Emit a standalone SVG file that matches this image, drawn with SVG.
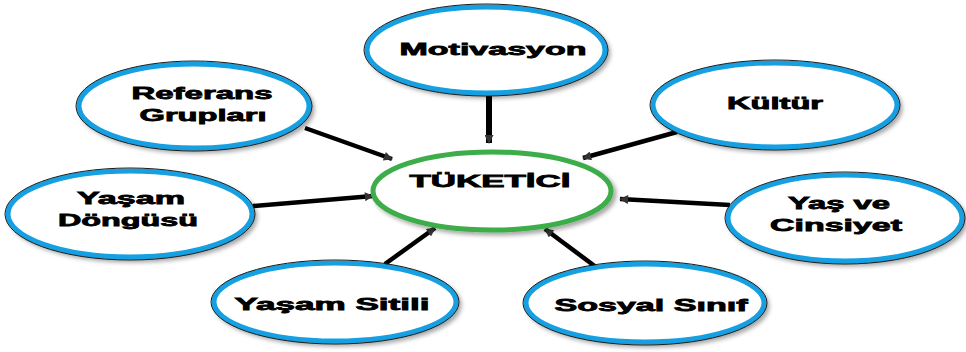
<svg xmlns="http://www.w3.org/2000/svg" width="966" height="352" viewBox="0 0 966 352">
<defs>
<filter id="sh" x="-10%" y="-10%" width="125%" height="130%">
<feDropShadow dx="3" dy="3" stdDeviation="2" flood-color="#000" flood-opacity="0.35"/>
</filter>
<marker id="ah" viewBox="0 0 10 10" refX="9" refY="5" markerWidth="10" markerHeight="9" markerUnits="userSpaceOnUse" orient="auto">
<path d="M0,0 L10,5 L0,10 Z" fill="#333"/>
</marker>
<style>
.n{fill:#fff;stroke:#14a0e2;stroke-width:5;filter:url(#sh)}
.o{fill:none;stroke:#1a1a1a;stroke-width:1}
.c{fill:#fff;stroke:#3cad48;stroke-width:5;filter:url(#sh)}
.t{font-family:"Liberation Sans",Arial,sans-serif;font-weight:bold;font-size:17px;fill:#000;stroke:#000;stroke-width:0.8;text-anchor:middle}
.l{stroke:#000;stroke-width:4.5;fill:none;marker-end:url(#ah)}
</style>
</defs>
<rect width="966" height="352" fill="#fff"/>
<g id="connectors">
<line class="l" x1="489" y1="96" x2="489" y2="143" style="stroke-width:6"/>
<line class="l" x1="305" y1="128" x2="392" y2="159"/>
<line class="l" x1="677" y1="132" x2="583" y2="158"/>
<line class="l" x1="253" y1="206" x2="373" y2="196"/>
<line class="l" x1="730" y1="205" x2="620" y2="199"/>
<line class="l" x1="385" y1="264" x2="435" y2="228"/>
<line class="l" x1="600" y1="270" x2="545" y2="229"/>
</g>
<g id="tuketici">
<ellipse class="c" cx="492" cy="191" rx="119" ry="39"/>
<text class="t" x="490" y="187" textLength="161" lengthAdjust="spacingAndGlyphs" font-size="18">TÜKETİCİ</text>
</g>
<g id="motivasyon">
<ellipse class="n" cx="486" cy="50" rx="119" ry="43"/>
<ellipse class="o" cx="486" cy="50" rx="122" ry="46"/>
<text class="t" x="493" y="55" textLength="187" lengthAdjust="spacingAndGlyphs">Motivasyon</text>
</g>
<g id="referans">
<ellipse class="n" cx="194" cy="106" rx="115" ry="42"/>
<ellipse class="o" cx="194" cy="106" rx="118" ry="45"/>
<text class="t" x="202" y="99" textLength="141" lengthAdjust="spacingAndGlyphs">Referans</text>
<text class="t" x="203" y="121" textLength="127" lengthAdjust="spacingAndGlyphs">Grupları</text>
</g>
<g id="kultur">
<ellipse class="n" cx="775" cy="105" rx="122" ry="42"/>
<ellipse class="o" cx="775" cy="105" rx="125" ry="45"/>
<text class="t" x="775" y="109" textLength="96" lengthAdjust="spacingAndGlyphs">Kültür</text>
</g>
<g id="yasam-dongusu">
<ellipse class="n" cx="130" cy="214" rx="122" ry="43"/>
<ellipse class="o" cx="130" cy="214" rx="125" ry="46"/>
<text class="t" x="131" y="204" textLength="108" lengthAdjust="spacingAndGlyphs">Yaşam</text>
<text class="t" x="128" y="226" textLength="140" lengthAdjust="spacingAndGlyphs">Döngüsü</text>
</g>
<g id="yas-cinsiyet">
<ellipse class="n" cx="845" cy="218" rx="117" ry="43"/>
<ellipse class="o" cx="845" cy="218" rx="120" ry="46"/>
<text class="t" x="839" y="209" textLength="102" lengthAdjust="spacingAndGlyphs">Yaş ve</text>
<text class="t" x="836" y="231" textLength="132" lengthAdjust="spacingAndGlyphs">Cinsiyet</text>
</g>
<g id="yasam-sitili">
<ellipse class="n" cx="335" cy="302" rx="121" ry="39"/>
<ellipse class="o" cx="335" cy="302" rx="124" ry="42"/>
<text class="t" x="332" y="310" textLength="195" lengthAdjust="spacingAndGlyphs">Yaşam Sitili</text>
</g>
<g id="sosyal-sinif">
<ellipse class="n" cx="645" cy="303" rx="119" ry="39"/>
<ellipse class="o" cx="645" cy="303" rx="122" ry="42"/>
<text class="t" x="651" y="311" textLength="193" lengthAdjust="spacingAndGlyphs">Sosyal Sınıf</text>
</g>
</svg>
